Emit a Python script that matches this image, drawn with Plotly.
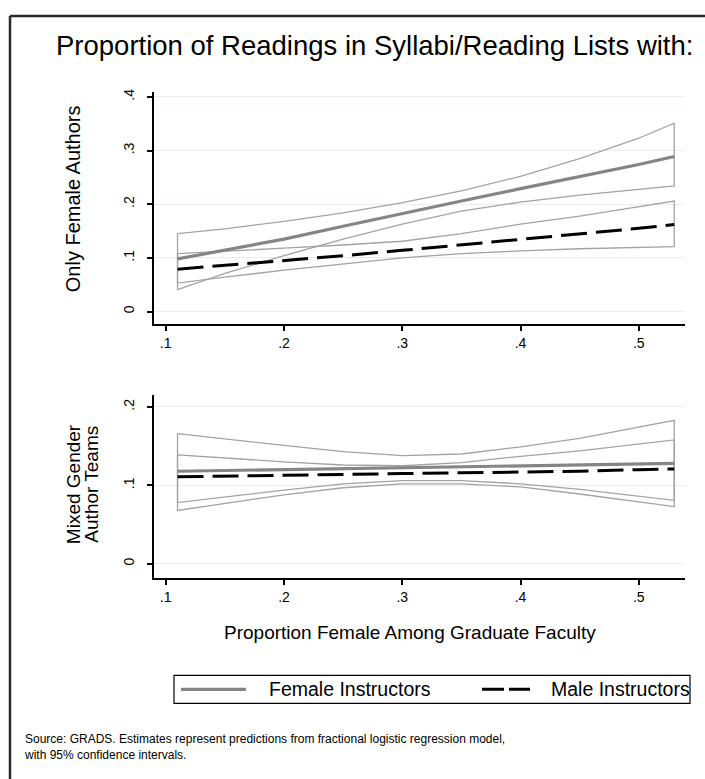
import plotly.graph_objects as go

# ---------------- data ----------------
x_faculty = [0.11, 0.15, 0.20, 0.25, 0.30, 0.35, 0.40, 0.45, 0.50, 0.53]
x_ticks = [0.1, 0.2, 0.3, 0.4, 0.5]
x_tick_labels = [".1", ".2", ".3", ".4", ".5"]

# Panel 1: Only Female Authors
fem_only_female_mean = [0.098, 0.114, 0.135, 0.159, 0.183, 0.206, 0.229, 0.251, 0.274, 0.289]
fem_only_female_hi = [0.145, 0.154, 0.168, 0.184, 0.203, 0.225, 0.252, 0.285, 0.323, 0.351]
fem_only_female_lo = [0.041, 0.071, 0.104, 0.135, 0.163, 0.187, 0.204, 0.217, 0.228, 0.234]
fem_only_male_mean = [0.079, 0.086, 0.095, 0.104, 0.114, 0.124, 0.134, 0.144, 0.155, 0.162]
fem_only_male_hi = [0.108, 0.112, 0.118, 0.124, 0.131, 0.145, 0.163, 0.178, 0.195, 0.206]
fem_only_male_lo = [0.053, 0.064, 0.077, 0.089, 0.100, 0.108, 0.113, 0.117, 0.120, 0.121]
y1_ticks = [0, 0.1, 0.2, 0.3, 0.4]
y1_tick_labels = ["0", ".1", ".2", ".3", ".4"]

# Panel 2: Mixed Gender Author Teams
mixed_female_mean = [0.118, 0.119, 0.120, 0.121, 0.123, 0.124, 0.125, 0.126, 0.127, 0.128]
mixed_female_hi = [0.166, 0.159, 0.151, 0.143, 0.138, 0.140, 0.149, 0.160, 0.174, 0.183]
mixed_female_lo = [0.068, 0.077, 0.088, 0.097, 0.102, 0.102, 0.098, 0.089, 0.079, 0.073]
mixed_male_mean = [0.111, 0.112, 0.113, 0.114, 0.115, 0.116, 0.117, 0.118, 0.120, 0.121]
mixed_male_hi = [0.139, 0.135, 0.130, 0.126, 0.125, 0.129, 0.137, 0.144, 0.153, 0.158]
mixed_male_lo = [0.078, 0.085, 0.094, 0.102, 0.106, 0.106, 0.102, 0.095, 0.086, 0.081]
y2_ticks = [0, 0.1, 0.2]
y2_tick_labels = ["0", ".1", ".2"]

title_text = "Proportion of Readings in Syllabi/Reading Lists with:"
y1_title = "Only Female Authors"
y2_title_lines = ["Mixed Gender", "Author Teams"]
x_title = "Proportion Female Among Graduate Faculty"
legend_labels = ["Female Instructors", "Male Instructors"]
source_text = ("Source: GRADS. Estimates represent predictions from fractional logistic regression model,"
               "<br>with 95% confidence intervals.")

# ---------------- styling ----------------
W, H = 705, 779
FONT = "Liberation Sans, Arial, sans-serif"
CI_COLOR = "#a3a3a3"
FEM_COLOR = "#858585"
MALE_COLOR = "#000000"
GRID = "#e7eef0"


def px(x):
    return x / W


def py(y):
    return 1 - y / H


fig = go.Figure()


def band(xs, hi, lo, xa, ya):
    xx = list(xs) + list(xs[::-1]) + [xs[0]]
    yy = list(hi) + list(lo[::-1]) + [hi[0]]
    fig.add_trace(go.Scatter(x=xx, y=yy, mode="lines", xaxis=xa, yaxis=ya,
                             line=dict(color=CI_COLOR, width=1.3),
                             hoverinfo="skip", showlegend=False))


def means(xs, fm, mm, xa, ya):
    fig.add_trace(go.Scatter(x=xs, y=fm, mode="lines", xaxis=xa, yaxis=ya,
                             line=dict(color=FEM_COLOR, width=3.2),
                             name=legend_labels[0], showlegend=False))
    fig.add_trace(go.Scatter(x=xs, y=mm, mode="lines", xaxis=xa, yaxis=ya,
                             line=dict(color=MALE_COLOR, width=3, dash="26px,9px"),
                             name=legend_labels[1], showlegend=False))


band(x_faculty, fem_only_female_hi, fem_only_female_lo, "x", "y")
band(x_faculty, fem_only_male_hi, fem_only_male_lo, "x", "y")
means(x_faculty, fem_only_female_mean, fem_only_male_mean, "x", "y")

band(x_faculty, mixed_female_hi, mixed_female_lo, "x2", "y2")
band(x_faculty, mixed_male_hi, mixed_male_lo, "x2", "y2")
means(x_faculty, mixed_female_mean, mixed_male_mean, "x2", "y2")

x_dom = [px(154), px(685)]
x_rng = [0.0901, 0.5391]

common_x = dict(domain=x_dom, range=x_rng, tickvals=x_ticks, ticktext=x_tick_labels,
                showline=True, linecolor="black", linewidth=1.5, ticks="outside",
                ticklen=5, tickwidth=1.5, tickcolor="black", showgrid=False,
                zeroline=False, tickfont=dict(size=14, color="black", family=FONT),
                ticklabelstandoff=1)
common_y = dict(showline=True, linecolor="black", linewidth=1.5, ticks="outside",
                ticklen=5, tickwidth=1.5, tickcolor="black", showgrid=True,
                gridcolor=GRID, gridwidth=1, zeroline=False, tickangle=-90,
                tickfont=dict(size=14, color="black", family=FONT),
                ticklabelstandoff=8)

fig.update_layout(
    width=W, height=H, margin=dict(l=0, r=0, t=0, b=0),
    paper_bgcolor="white", plot_bgcolor="white",
    font=dict(family=FONT, color="black"),
    showlegend=False,
    xaxis=dict(anchor="y", **common_x),
    yaxis=dict(anchor="x", domain=[py(322), py(89)], range=[-0.0228, 0.4098],
               tickvals=y1_ticks, ticktext=y1_tick_labels, **common_y),
    xaxis2=dict(anchor="y2", **common_x),
    yaxis2=dict(anchor="x2", domain=[py(577), py(394)], range=[-0.0178, 0.2146],
                tickvals=y2_ticks, ticktext=y2_tick_labels, **common_y),
)


def txt(text, x, y, size, angle=0, xanchor="center", align="center"):
    return dict(text=text, x=px(x), y=py(y), xref="paper", yref="paper",
                showarrow=False, textangle=angle, align=align,
                font=dict(size=size, family=FONT, color="black"),
                xanchor=xanchor, yanchor="middle")


annotations = [
    txt(title_text, 374, 43, 27.5),
    txt(y1_title, 73, 197, 20, angle=-90),
    txt(y2_title_lines[0], 73, 483, 19, angle=-90),
    txt(y2_title_lines[1], 91.5, 483, 19, angle=-90),
    txt(x_title, 410, 632, 19),
    txt(legend_labels[0], 267, 689, 19.5, xanchor="left"),
    txt(legend_labels[1], 549, 689, 19.5, xanchor="left"),
    txt(source_text, 22, 747, 12, xanchor="left", align="left"),
]

shapes = [
    # outer graph-region border (top and left visible)
    dict(type="line", xref="paper", yref="paper", x0=px(10), x1=1.0, y0=py(13), y1=py(13),
         line=dict(color="#2a2a2a", width=2.5)),
    dict(type="line", xref="paper", yref="paper", x0=px(10), x1=px(10), y0=py(13), y1=0,
         line=dict(color="#2a2a2a", width=2.5)),
    # legend box
    dict(type="rect", xref="paper", yref="paper", x0=px(174), x1=px(690), y0=py(703), y1=py(675),
         line=dict(color="black", width=1.2), fillcolor="rgba(0,0,0,0)"),
    dict(type="line", xref="paper", yref="paper", x0=px(181), x1=px(246), y0=py(689), y1=py(689),
         line=dict(color=FEM_COLOR, width=3.2)),
    dict(type="line", xref="paper", yref="paper", x0=px(482), x1=px(530), y0=py(689), y1=py(689),
         line=dict(color=MALE_COLOR, width=3, dash="22px,5px")),
]

fig.update_layout(annotations=annotations, shapes=shapes)

fig.write_html("out.html",
               config={"displayModeBar": False},
               post_script="document.body.style.margin='0px';document.body.style.padding='0px';")
